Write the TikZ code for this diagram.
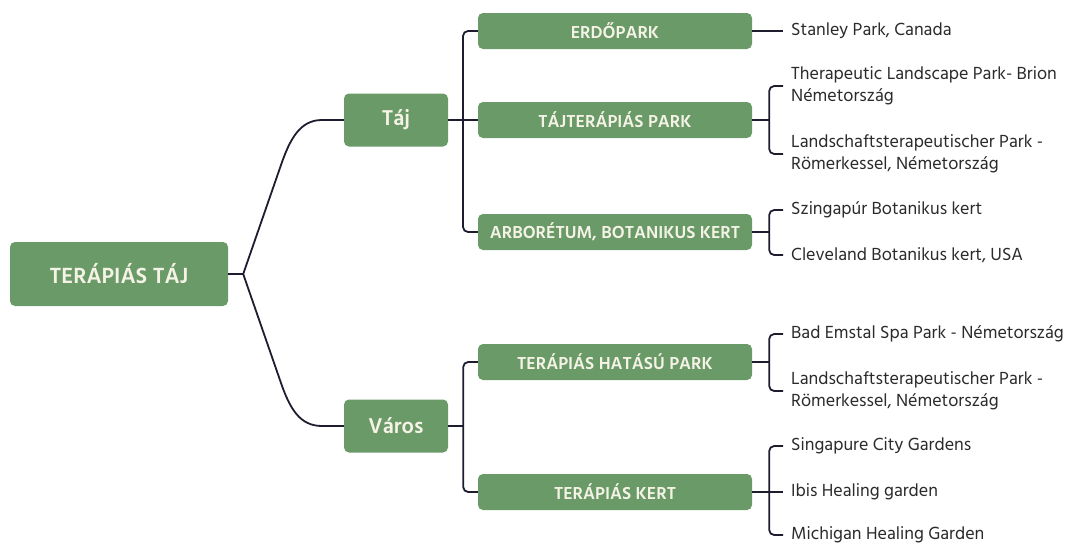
\documentclass[tikz,border=0pt]{standalone}
\usepackage{fontspec}
\setmainfont{Hind Madurai}
\usetikzlibrary{calc}
\definecolor{boxgreen}{HTML}{6B9A69}
\definecolor{boxtext}{HTML}{F5F3E6}
\definecolor{linecol}{HTML}{1E1D30}
\definecolor{leaftext}{HTML}{2B2B2B}
\begin{document}
\begin{tikzpicture}[x=1pt,y=-1pt,
 gbox/.style={fill=boxgreen, rounded corners=5pt, text=boxtext, inner sep=0pt, align=center},
 rootbox/.style={gbox, minimum width=218pt, minimum height=64pt, font=\fontsize{22.5}{26}\selectfont\bfseries},
 lvlone/.style={gbox, minimum width=104pt, minimum height=53pt, font=\fontsize{22}{26}\selectfont\bfseries},
 lvltwo/.style={gbox, minimum width=274pt, minimum height=36pt, font=\fontsize{17.8}{20}\selectfont\bfseries},
 leaf/.style={anchor=west, align=left, inner sep=0pt, text=leaftext, font=\fontsize{18}{22}\selectfont},
 conn/.style={draw=linecol, line width=1.8pt, rounded corners=5pt},
]
\useasboundingbox (0,0) rectangle (1065,546);
\fill[white] (0,0) rectangle (1065,546);

% nodes
\node[rootbox] (root) at (119,274) {TERÁPIÁS TÁJ};
\node[lvlone] (taj) at (396,120) {Táj};
\node[lvlone] (varos) at (396,426) {Város};
\node[lvltwo] (erdo) at (615,31) {ERDŐPARK};
\node[lvltwo] (tajter) at (615,120) {TÁJTERÁPIÁS PARK};
\node[lvltwo] (arbor) at (615,232) {ARBORÉTUM, BOTANIKUS KERT};
\node[lvltwo] (hatasu) at (615,362) {TERÁPIÁS HATÁSÚ PARK};
\node[lvltwo] (kert) at (615,492) {TERÁPIÁS KERT};

\node[leaf] (s1) at (791,31) {Stanley Park, Canada};
\node[leaf] (s2) at (791,86) {Therapeutic Landscape Park- Brion\\Németország};
\node[leaf] (s3) at (791,154) {Landschaftsterapeutischer Park -\\Römerkessel, Németország};
\node[leaf] (s4) at (791,210) {Szingapúr Botanikus kert};
\node[leaf] (s5) at (791,255) {Cleveland Botanikus kert, USA};
\node[leaf] (s6) at (791,334) {Bad Emstal Spa Park - Németország};
\node[leaf] (s7) at (791,391) {Landschaftsterapeutischer Park -\\Römerkessel, Németország};
\node[leaf] (s8) at (791,446) {Singapure City Gardens};
\node[leaf] (s9) at (791,492) {Ibis Healing garden};
\node[leaf] (s10) at (791,535) {Michigan Healing Garden};

% root connectors
\draw[conn] (root.east) -- ++(15,0) coordinate (rj);
\draw[conn, rounded corners=0pt] (rj) -- (281,165) .. controls (290,139) and (300,120) .. (322,120) -- (taj.west);
\draw[conn, rounded corners=0pt] (rj) -- (281,383) .. controls (290,409) and (300,426) .. (322,426) -- (varos.west);

% level one connectors
\draw[conn] (taj.east) -- (tajter.west);
\draw[conn] (erdo.west) -| ($(taj.east)!0.5!(tajter.west)$) |- (arbor.west);
\draw[conn] (varos.east) -- ++(15,0) coordinate (vj);
\draw[conn] (hatasu.west) -| (vj) |- (kert.west);

% level two connectors
\draw[conn] (erdo.east) -- ([xshift=-8pt]s1.west);
\draw[conn] (tajter.east) -- ++(17,0) coordinate (b2);
\draw[conn] ([xshift=-8pt]s2.west) -| (b2) |- ([xshift=-8pt]s3.west);
\draw[conn] (arbor.east) -- ++(17,0) coordinate (b3);
\draw[conn] ([xshift=-8pt]s4.west) -| (b3) |- ([xshift=-8pt]s5.west);
\draw[conn] (hatasu.east) -- ++(17,0) coordinate (b4);
\draw[conn] ([xshift=-8pt]s6.west) -| (b4) |- ([xshift=-8pt]s7.west);
\draw[conn] (kert.east) -- ([xshift=-8pt]s9.west);
\path (kert.east) -- ++(17,0) coordinate (b5);
\draw[conn] ([xshift=-8pt]s8.west) -| (b5) |- ([xshift=-8pt]s10.west);
\end{tikzpicture}
\end{document}
